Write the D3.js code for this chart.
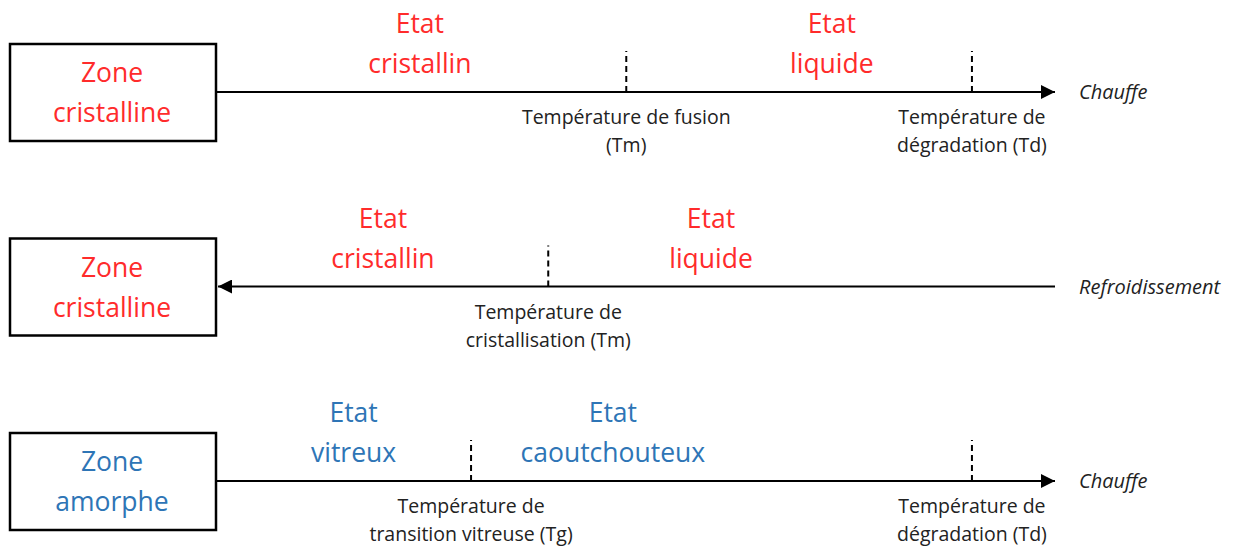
<!DOCTYPE html>
<html>
<head>
<meta charset="utf-8">
<script src="https://cdn.jsdelivr.net/npm/d3@7"></script>
<style>
  body { margin: 0; background: #fff; }
  text { font-family: "Open Sans", "Noto Sans", sans-serif; }
</style>
</head>
<body>
<div id="container"></div>
<script>
// rows of the diagram
var rowIds = ["chauffe1", "refroid", "chauffe2"];
var zoneLabels = [["Zone", "cristalline"], ["Zone", "cristalline"], ["Zone", "amorphe"]];
var directions = ["Chauffe", "Refroidissement", "Chauffe"];
var arrowLeft = [false, true, false];
var rowColors = ["#ff2b2b", "#ff2b2b", "#2e75b6"];

// temperature marks (0-100 along the axis)
var markValues = [[48.9, 90.1], [39.6], [30.4, 90.1]];
var markLabels = [
  [["Température de fusion", "(Tm)"], ["Température de", "dégradation (Td)"]],
  [["Température de", "cristallisation (Tm)"]],
  [["Température de", "transition vitreuse (Tg)"], ["Température de", "dégradation (Td)"]]
];

// states between the marks
var stateValues = [[24.3, 73.4], [19.9, 59.0], [16.4, 47.3]];
var stateLabels = [
  [["Etat", "cristallin"], ["Etat", "liquide"]],
  [["Etat", "cristallin"], ["Etat", "liquide"]],
  [["Etat", "vitreux"], ["Etat", "caoutchouteux"]]
];

var width = 1236;
var height = 547;

var svg = d3.select("#container")
            .append("svg")
            .attr("width", width)
            .attr("height", height);

var x = d3.scaleLinear().domain([0, 100]).range([216, 1055]);
var y = d3.scalePoint().domain(rowIds).range([92, 481]);

var defs = svg.append("defs");
defs.append("marker")
    .attr("id", "arrow")
    .attr("viewBox", "0 0 10 10")
    .attr("refX", 10).attr("refY", 5)
    .attr("markerWidth", 7.5).attr("markerHeight", 7)
    .attr("markerUnits", "strokeWidth")
    .attr("orient", "auto-start-reverse")
    .append("path")
    .attr("d", "M0,0 L10,5 L0,10 Z")
    .attr("fill", "#000");

rowIds.forEach(function (id, i) {
    var cy = y(id);
    var g = svg.append("g").attr("class", "row");
    var color = rowColors[i];

    // zone box
    g.append("rect")
     .attr("x", 10).attr("y", cy - 48)
     .attr("width", 206).attr("height", 97)
     .attr("fill", "#fff")
     .attr("stroke", "#000")
     .attr("stroke-width", 2.5);

    g.append("text")
     .attr("x", 112).attr("y", cy - 10)
     .attr("text-anchor", "middle")
     .attr("fill", color)
     .style("font-size", "26.5px")
     .text(zoneLabels[i][0]);
    g.append("text")
     .attr("x", 112).attr("y", cy + 30)
     .attr("text-anchor", "middle")
     .attr("fill", color)
     .style("font-size", "26.5px")
     .text(zoneLabels[i][1]);

    // axis line with arrow
    var line = g.append("line")
     .attr("x1", x(0) + 1).attr("x2", x(100))
     .attr("y1", cy).attr("y2", cy)
     .attr("stroke", "#000")
     .attr("stroke-width", 2);
    if (arrowLeft[i]) {
        line.attr("x1", x(0) + 2).attr("marker-start", "url(#arrow)");
    } else {
        line.attr("marker-end", "url(#arrow)");
    }

    // direction label
    g.append("text")
     .attr("x", x(100) + 24).attr("y", cy + 7)
     .attr("fill", "#222")
     .style("font-size", "20px")
     .style("font-style", "italic")
     .text(directions[i]);

    // dashed marks
    g.selectAll("line.mark")
     .data(markValues[i])
     .enter()
     .append("line")
     .attr("class", "mark")
     .attr("x1", function (d) { return x(d); })
     .attr("x2", function (d) { return x(d); })
     .attr("y1", cy)
     .attr("y2", cy - 41)
     .attr("stroke", "#000")
     .attr("stroke-width", 2)
     .attr("stroke-dasharray", "6,4");

    // mark labels
    markValues[i].forEach(function (v, j) {
        var lines = markLabels[i][j];
        lines.forEach(function (t, k) {
            g.append("text")
             .attr("x", x(v))
             .attr("y", cy + 32 + k * 28)
             .attr("text-anchor", "middle")
             .attr("fill", "#222")
             .style("font-size", "19.5px")
             .text(t);
        });
    });

    // state labels
    stateValues[i].forEach(function (v, j) {
        var lines = stateLabels[i][j];
        lines.forEach(function (t, k) {
            g.append("text")
             .attr("x", x(v))
             .attr("y", cy - 59 + k * 40)
             .attr("text-anchor", "middle")
             .attr("fill", color)
             .style("font-size", "26.5px")
             .text(t);
        });
    });
});
</script>
</body>
</html>
